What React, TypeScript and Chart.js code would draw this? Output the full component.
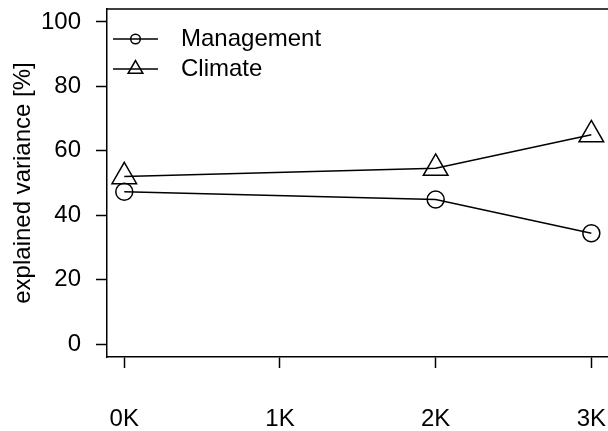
import React, { useEffect, useRef } from "react";
import { Chart, registerables } from "chart.js";

Chart.register(...registerables);

const xValues = [0, 2, 3];
const management = [47.3, 44.9, 34.4];
const climate = [52.0, 54.6, 65.0];
const xTickValues = [0, 1, 2, 3];
const xTickLabels = ["0K", "1K", "2K", "3K"];
const yTickValues = [0, 20, 40, 60, 80, 100];
const seriesNames = ["Management", "Climate"];
const yTitle = "explained variance [%]";

const FONT = "'Liberation Sans', Arial, sans-serif";
const FS = 24;

export default function App() {
  const ref = useRef<HTMLCanvasElement | null>(null);
  useEffect(() => {
    const canvas = ref.current;
    if (!canvas) return;
    const boxPlugin = {
      id: "boxAndLegend",
      afterDraw(chart: any) {
        const { ctx, chartArea } = chart;
        const xs = chart.scales.x;
        const ysc = chart.scales.y;
        ctx.save();
        ctx.strokeStyle = "#000";
        ctx.lineWidth = 1.5;
        ctx.beginPath();
        ctx.moveTo(chartArea.left, chartArea.top);
        ctx.lineTo(chartArea.right, chartArea.top);
        ctx.stroke();
        ctx.fillStyle = "#000";
        ctx.font = `${FS}px ${FONT}`;
        ctx.textBaseline = "middle";
        // y tick labels
        ctx.textAlign = "right";
        yTickValues.forEach((v) => {
          ctx.fillText(String(v), 81, ysc.getPixelForValue(v));
        });
        // x tick labels
        ctx.textAlign = "center";
        xTickValues.forEach((v, i) => {
          ctx.fillText(xTickLabels[i], xs.getPixelForValue(v), 419);
        });
        // legend
        const lx0 = 113, lx1 = 158, mx = 135.5;
        const ys = [39, 69];
        ys.forEach((y, i) => {
          ctx.beginPath();
          ctx.moveTo(lx0, y);
          ctx.lineTo(lx1, y);
          ctx.stroke();
          ctx.beginPath();
          if (i === 0) {
            ctx.arc(mx, y, 4.8, 0, Math.PI * 2);
          } else {
            const r = 8.5;
            ctx.moveTo(mx, y - r);
            ctx.lineTo(mx + r * Math.sin((2 * Math.PI) / 3), y - r * Math.cos((2 * Math.PI) / 3));
            ctx.lineTo(mx + r * Math.sin((4 * Math.PI) / 3), y - r * Math.cos((4 * Math.PI) / 3));
            ctx.closePath();
          }
          ctx.stroke();
          ctx.textAlign = "left";
          ctx.fillText(seriesNames[i], 181, y);
        });
        ctx.restore();
      },
    };
    const zeroPad = (s: any) => {
      s.paddingTop = 0;
      s.paddingBottom = 0;
      s.paddingLeft = 0;
      s.paddingRight = 0;
    };
    const chart = new Chart(canvas, {
      type: "line",
      data: {
        datasets: [
          {
            label: seriesNames[0],
            data: xValues.map((x, i) => ({ x, y: management[i] })),
            borderColor: "#000",
            borderWidth: 1.5,
            pointStyle: "circle",
            pointRadius: 8.5,
            pointBorderWidth: 1.5,
            pointBorderColor: "#000",
            pointBackgroundColor: "rgba(0,0,0,0)",
            tension: 0,
            clip: false,
          },
          {
            label: seriesNames[1],
            data: xValues.map((x, i) => ({ x, y: climate[i] })),
            borderColor: "#000",
            borderWidth: 1.5,
            pointStyle: "triangle",
            pointRadius: 14.2,
            pointBorderWidth: 1.5,
            pointBorderColor: "#000",
            pointBackgroundColor: "rgba(0,0,0,0)",
            tension: 0,
            clip: false,
          },
        ],
      },
      options: {
        animation: false,
        responsive: false,
        maintainAspectRatio: false,
        devicePixelRatio: 1,
        layout: { autoPadding: false, padding: { top: 9, right: 0, left: 0, bottom: 0 } },
        plugins: { legend: { display: false }, tooltip: { enabled: false } },
        scales: {
          x: {
            type: "linear",
            min: -0.111,
            max: 3.107,
            afterBuildTicks: (s: any) => {
              s.ticks = xTickValues.map((v) => ({ value: v }));
            },
            afterFit: (s: any) => {
              s.height = 74;
              zeroPad(s);
            },
            ticks: { display: false },
            grid: {
              drawOnChartArea: false,
              drawTicks: true,
              tickLength: 11,
              tickColor: "#000",
              tickWidth: 1.5,
            },
            border: { display: true, color: "#000", width: 1.5 },
          },
          y: {
            type: "linear",
            min: -4,
            max: 104,
            afterBuildTicks: (s: any) => {
              s.ticks = yTickValues.map((v) => ({ value: v }));
            },
            afterFit: (s: any) => {
              s.width = 107;
              zeroPad(s);
            },
            ticks: { display: false },
            grid: {
              drawOnChartArea: false,
              drawTicks: true,
              tickLength: 11,
              tickColor: "#000",
              tickWidth: 1.5,
            },
            border: { display: true, color: "#000", width: 1.5 },
            title: {
              display: true,
              text: yTitle,
              color: "#000",
              font: { family: FONT, size: FS },
              padding: { top: 9, bottom: 0 },
            },
          },
        },
      },
      plugins: [boxPlugin],
    });
    return () => chart.destroy();
  }, []);
  return (
    <div style={{ position: "fixed", left: 0, top: 0, width: 608, height: 431, background: "#fff" }}>
      <canvas ref={ref} width={608} height={431} style={{ width: 608, height: 431, display: "block" }} />
    </div>
  );
}
